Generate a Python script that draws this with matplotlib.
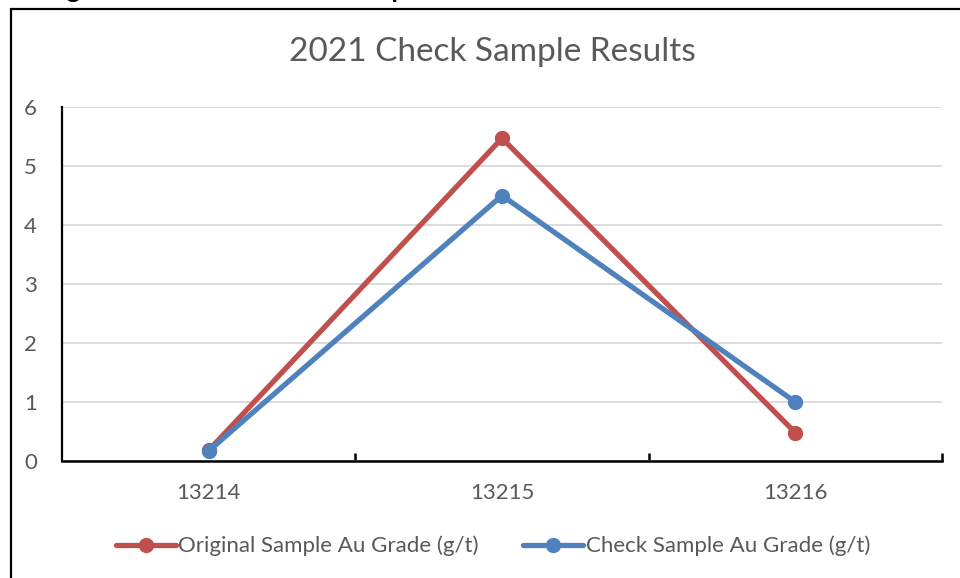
import matplotlib
matplotlib.use("Agg")
import matplotlib.pyplot as plt
from matplotlib.patches import Rectangle

plt.rcParams['font.family'] = ['Lato', 'DejaVu Sans']

samples = ["13214", "13215", "13216"]
original_au = [0.18, 5.47, 0.48]
check_au = [0.17, 4.50, 1.00]
y_ticks = [0, 1, 2, 3, 4, 5, 6]

RED = "#C0504D"
BLUE = "#4F81BD"
GREY = "#595959"

W, H = 960, 578
fig = plt.figure(figsize=(W / 100, H / 100), dpi=100)

# caption above the framed chart (mostly cut off at the page edge)
fig.text(45 / W, 1 + 1.5 / H, "Figure 11-5: 2021 Check Sample Results",
         fontsize=19, fontweight="bold", color="black",
         ha="left", va="baseline")

# chart frame
fig.patches.append(Rectangle((11 / W, -0.1), 1.2, 1 - 9 / H + 0.1,
                             transform=fig.transFigure, fill=False,
                             edgecolor="black", linewidth=1.6))

left, right, bottom, top = 62, 942, 461, 107
ax = fig.add_axes([left / W, 1 - bottom / H, (right - left) / W, (bottom - top) / H])

x = list(range(len(samples)))
ax.plot(x, original_au, color=RED, linewidth=3.8, marker="o", markersize=10,
        solid_capstyle="round", label="Original Sample Au Grade (g/t)", zorder=3)
ax.plot(x, check_au, color=BLUE, linewidth=3.8, marker="o", markersize=10,
        solid_capstyle="round", label="Check Sample Au Grade (g/t)", zorder=4)

ax.set_xlim(-0.5, len(samples) - 0.5)
ax.set_ylim(0, 6)
ax.set_yticks(y_ticks)
ax.set_xticks(x)
ax.set_xticklabels(samples)
ax.set_xticks([i + 0.5 for i in x], minor=True)

ax.grid(axis="y", color="#D9D9D9", linewidth=1.3)
ax.set_axisbelow(True)

for s in ["top", "right"]:
    ax.spines[s].set_visible(False)
ax.spines["left"].set_color("black")
ax.spines["left"].set_linewidth(1.6)
ax.spines["bottom"].set_color("black")
ax.spines["bottom"].set_linewidth(1.8)

ax.tick_params(axis="y", length=0, pad=18, labelsize=16, labelcolor=GREY)
ax.tick_params(axis="x", which="major", length=0, pad=16, labelsize=16, labelcolor=GREY)
ax.tick_params(axis="x", which="minor", direction="in", length=5.5, width=1.8, color="black")

fig.text(492 / W, 1 - 52 / H, "2021 Check Sample Results", fontsize=24,
         color=GREY, ha="center", va="center")

leg = fig.legend(loc="center", bbox_to_anchor=(493 / W, 1 - 546 / H), ncol=2,
                 frameon=False, fontsize=16, labelcolor=GREY,
                 handlelength=2.7, handletextpad=0.1, columnspacing=2.0)

fig.savefig("out.png", dpi=100)
